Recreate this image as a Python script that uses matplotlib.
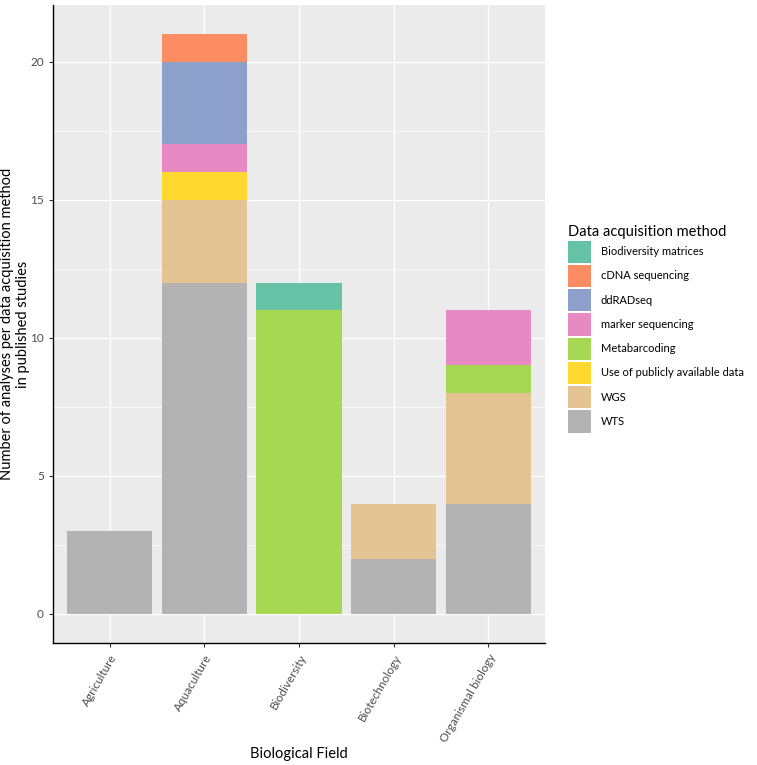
import matplotlib
matplotlib.use("Agg")
from matplotlib import pyplot as plt
from matplotlib.patches import Patch
from matplotlib.ticker import MultipleLocator
import numpy as np

plt.rcParams['font.family'] = ['Lato', 'DejaVu Sans']

fields = ["Agriculture", "Aquaculture", "Biodiversity", "Biotechnology", "Organismal biology"]
methods = ["Biodiversity matrices", "cDNA sequencing", "ddRADseq", "marker sequencing",
           "Metabarcoding", "Use of publicly available data", "WGS", "WTS"]
colors = ["#66C2A5", "#FC8D62", "#8DA0CB", "#E78AC3", "#A6D854", "#FFD92F", "#E5C494", "#B3B3B3"]

# counts per method for each field
counts = {
    "Biodiversity matrices":          [0, 0, 1, 0, 0],
    "cDNA sequencing":                [0, 1, 0, 0, 0],
    "ddRADseq":                       [0, 3, 0, 0, 0],
    "marker sequencing":              [0, 1, 0, 0, 2],
    "Metabarcoding":                  [0, 0, 11, 0, 1],
    "Use of publicly available data": [0, 1, 0, 0, 0],
    "WGS":                            [0, 3, 0, 2, 4],
    "WTS":                            [3, 12, 0, 2, 4],
}

fig = plt.figure(figsize=(7.57, 7.65), dpi=100)
ax = fig.add_axes([0.070, 0.1595, 0.650, 0.834])
ax.set_facecolor("#EBEBEB")

x = np.arange(1, len(fields) + 1)
bottom = np.zeros(len(fields))
# ggplot stacks first level on top, so draw from the last level up
for m, c in reversed(list(zip(methods, colors))):
    v = np.array(counts[m], dtype=float)
    ax.bar(x, v, bottom=bottom, width=0.9, color=c, zorder=3, linewidth=0)
    bottom += v

ax.set_xlim(0.4, 5.6)
ax.set_ylim(-1.05, 22.05)
ax.yaxis.set_major_locator(MultipleLocator(5))
ax.yaxis.set_minor_locator(MultipleLocator(2.5))
ax.set_xticks(x)
ax.set_xticklabels(fields, rotation=60, ha="right", va="top", rotation_mode="anchor",
                   fontsize=8.5, color="#4D4D4D")
ax.tick_params(axis="y", labelsize=8.5, labelcolor="#4D4D4D", color="#333333", length=3)
ax.tick_params(axis="x", color="#333333", length=3)
ax.tick_params(which="minor", length=0)
ax.grid(which="major", color="white", linewidth=1.0, zorder=0)
ax.grid(which="minor", axis="y", color="white", linewidth=0.5, zorder=0)
ax.set_axisbelow(True)
for s in ["top", "right"]:
    ax.spines[s].set_visible(False)
for s in ["left", "bottom"]:
    ax.spines[s].set_color("black")
    ax.spines[s].set_linewidth(1.0)

ax.set_xlabel("Biological Field", fontsize=10.5, labelpad=2)
ax.set_ylabel("Number of analyses per data acquisition method\nin published studies",
              fontsize=10.5, va="center")
ax.yaxis.set_label_coords(-0.077, 0.5)

handles = [Patch(facecolor=c, edgecolor="none") for c in colors]
leg = fig.legend(handles, methods, title="Data acquisition method", loc="upper left",
                 bbox_to_anchor=(0.745, 0.712), frameon=False, fontsize=8,
                 title_fontsize=10.5, handlelength=2.0, handleheight=2.7,
                 labelspacing=0.18, handletextpad=0.9, borderaxespad=0)
leg._legend_box.align = "left"

fig.savefig("out.png", dpi=100)
